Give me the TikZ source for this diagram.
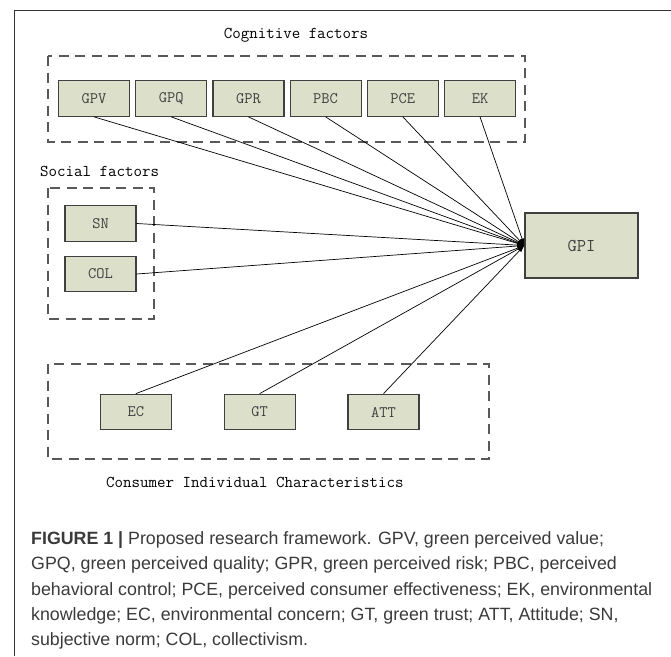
\documentclass[tikz,border=0pt]{standalone}
\usepackage{fontspec}
\newfontfamily\capfont{Liberation Sans}
\usetikzlibrary{arrows.meta}
\definecolor{boxfill}{RGB}{220,224,202}
\definecolor{boxline}{RGB}{64,64,64}
\definecolor{capgray}{RGB}{58,58,58}
\tikzset{
  factor/.style={draw=boxline, fill=boxfill, line width=1.2pt, minimum width=71pt, minimum height=35.5pt, inner sep=0pt, font=\fontsize{16}{18}\ttfamily, text=black!75},
  groupbox/.style={draw=black!65, line width=1.2pt, dash pattern=on 10pt off 6.5pt},
  arrowline/.style={line width=0.7pt, -{Latex[length=7pt,width=4.5pt]}},
  heading/.style={font=\fontsize{16.5}{18}\ttfamily, inner sep=0pt},
  captext/.style={font=\fontsize{17.8}{25.3}\capfont, text=capgray, align=left, inner sep=0pt, anchor=north west}
}

\begin{document}
\begin{tikzpicture}[x=1pt,y=-1pt]
    \useasboundingbox (0,0) rectangle (671,656);
    % frame
    \draw[black!80, line width=1pt] (14,656) -- (14,10) -- (671,10);
    % dashed groups
    \draw[groupbox] (48,56) rectangle (525,142);
    \draw[groupbox] (48,188) rectangle (154,319);
    \draw[groupbox] (48,364) rectangle (489,459);
    \node[heading] (cogtitle) at (296,35) {Cognitive factors};
    \node[heading, anchor=west] (soctitle) at (40,171) {Social factors};
    \node[heading, anchor=west] (contitle) at (106,482) {Consumer Individual Characteristics};
    % factors
    \foreach \nm [count=\i from 0] in {GPV,GPQ,GPR,PBC,PCE,EK}
        \node[factor] (\nm) at ({94+77.2*\i},98.5) {\nm};
    \node[factor] (SN) at (100.5,223.5) {SN};
    \node[factor] (COL) at (100.5,274) {COL};
    \foreach \nm [count=\i from 0] in {EC,GT,ATT}
        \node[factor] (\nm) at ({135.8+123.85*\i},412) {\nm};
    \node[factor, minimum width=113pt, minimum height=65pt, font=\fontsize{18}{20}\ttfamily] (GPI) at (581.5,245.5) {GPI};
    % paths to GPI
    \foreach \nm in {GPV,GPQ,GPR,PBC,PCE,EK}
        \draw[arrowline] (\nm.south) -- (GPI.west);
    \foreach \nm in {SN,COL}
        \draw[arrowline] (\nm.east) -- (GPI.west);
    \foreach \nm in {EC,GT,ATT}
        \draw[arrowline] (\nm.north) -- (GPI.west);
    % caption
    \node[captext] (figcap) at (31,531.5) {\textbf{FIGURE 1 |} Proposed research framework. GPV, green perceived value;\\
        GPQ, green perceived quality; GPR, green perceived risk; PBC, perceived\\
        behavioral control; PCE, perceived consumer effectiveness; EK, environmental\\
        knowledge; EC, environmental concern; GT, green trust; ATT, Attitude; SN,\\
        subjective norm; COL, collectivism.};
\end{tikzpicture}
\end{document}
